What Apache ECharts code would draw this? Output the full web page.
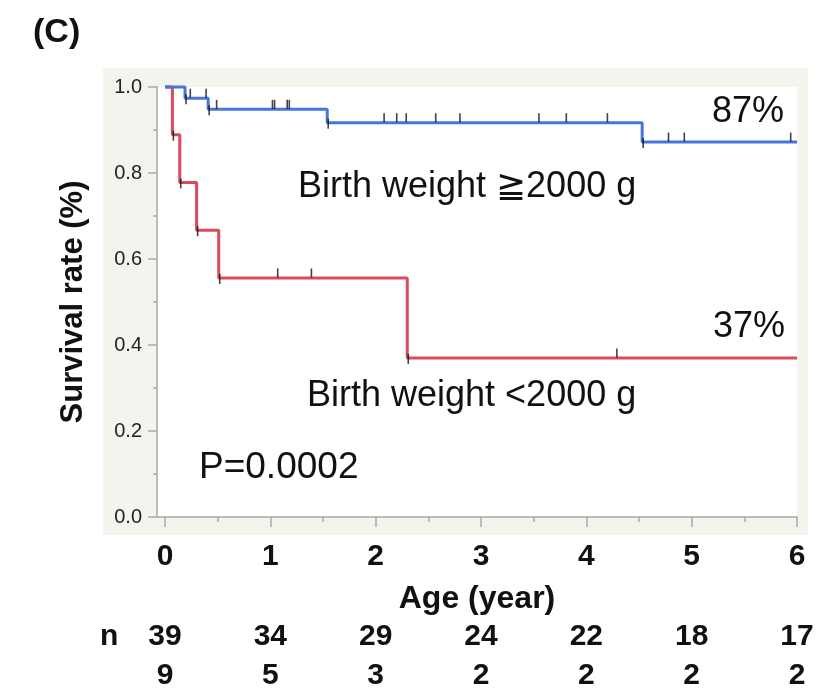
<!DOCTYPE html>
<html>
<head>
<meta charset="utf-8">
<script src="https://cdn.jsdelivr.net/npm/echarts@6/dist/echarts.min.js"></script>
<style>
  html, body { margin: 0; padding: 0; background: #fff; }
  #chart { width: 818px; height: 691px; }
</style>
</head>
<body>
<div id="chart"></div>
<script>
// Kaplan-Meier steps (age in years, survival)
var blueTimes = [0, 0.19, 0.41, 1.54, 4.53, 6];
var blueSurv  = [1.0, 0.974, 0.948, 0.917, 0.872, 0.872];
var redTimes  = [0, 0.07, 0.14, 0.30, 0.51, 2.30, 6];
var redSurv   = [1.0, 0.889, 0.778, 0.667, 0.556, 0.370, 0.370];

// censor marks
var blueCensored = [0.24, 0.39, 0.49, 1.02, 1.04, 1.16, 1.18, 2.08, 2.20, 2.29, 2.57, 2.80, 3.55, 3.81, 4.20, 4.78, 4.93, 5.94];
var redCensored  = [1.07, 1.39, 4.29];
// marks drawn at each drop
var blueDropMarks = [0.19, 0.41, 1.54, 4.53];
var redDropMarks  = [0.07, 0.14, 0.30, 0.51, 2.30];

// number at risk
var yearTicks = [0, 1, 2, 3, 4, 5, 6];
var halfYearTicks = [0.5, 1.5, 2.5, 3.5, 4.5, 5.5];
var atRiskHeavy = [39, 34, 29, 24, 22, 18, 17];
var atRiskLight = [9, 5, 3, 2, 2, 2, 2];

var FONT = "'Liberation Sans', Arial, Helvetica, sans-serif";
var blueColor = '#4575dd';
var redColor = '#d94a5c';
var axisGray = '#a8a8a8';

function levelAt(times, surv, t) {
    var v = surv[0];
    for (var i = 0; i < times.length; i++) {
        if (times[i] <= t + 1e-9) v = surv[i];
    }
    return v;
}
function pairs(times, surv) {
    return times.map(function (t, i) { return [t, surv[i]]; });
}
function marks(list, times, surv) {
    return list.map(function (t) { return [t, levelAt(times, surv, t)]; });
}

var xMin = -0.076, xMax = 6;

function xAx(extra) {
    var base = {
        type: 'value', min: xMin, max: xMax, position: 'bottom',
        splitLine: { show: false },
        axisLine: { show: false },
        axisTick: { show: false },
        axisLabel: { show: false }
    };
    for (var k in extra) base[k] = extra[k];
    return base;
}

var chart = echarts.init(document.getElementById('chart'));
chart.setOption({
    animation: false,
    backgroundColor: '#fff',
    textStyle: { fontFamily: FONT },
    graphic: [
        { type: 'rect', z: -10, shape: { x: 103, y: 68, width: 705, height: 467 }, style: { fill: '#f4f4ef' } },
        { type: 'text', left: 33, top: 16, style: { text: '(C)', font: 'bold 34px ' + FONT, fill: '#111' } },
        { type: 'text', left: 298, top: 169, style: { text: 'Birth weight \u22672000 g', font: '36px ' + FONT, fill: '#111' } },
        { type: 'text', left: 307, top: 378, style: { text: 'Birth weight <2000 g', font: '36px ' + FONT, fill: '#111' } },
        { type: 'text', left: 712, top: 94, style: { text: '87%', font: '36px ' + FONT, fill: '#111' } },
        { type: 'text', left: 713, top: 309, style: { text: '37%', font: '36px ' + FONT, fill: '#111' } },
        { type: 'text', left: 199, top: 449, style: { text: 'P=0.0002', font: '37px ' + FONT, fill: '#111' } },
        { type: 'text', left: 100, top: 622, style: { text: 'n', font: 'bold 30px ' + FONT, fill: '#111' } }
    ],
    grid: {
        left: 157, right: 21, top: 87, bottom: 172,
        show: true, backgroundColor: '#fff', borderWidth: 0
    },
    xAxis: [
        xAx({
            name: 'Age (year)', nameLocation: 'middle', nameGap: 66,
            nameTextStyle: { fontSize: 32, fontWeight: 'bold', color: '#111', fontFamily: FONT },
            axisLine: { show: true, onZero: false, lineStyle: { color: axisGray, width: 1.5 } },
            axisTick: { show: true, customValues: yearTicks, length: 10, lineStyle: { color: axisGray, width: 1.5 } },
            axisLabel: { show: true, customValues: yearTicks, margin: 25, fontSize: 30, fontWeight: 'bold', color: '#111', fontFamily: FONT }
        }),
        xAx({
            axisTick: { show: true, customValues: halfYearTicks, length: 5, lineStyle: { color: axisGray, width: 1.5 } }
        }),
        xAx({
            axisLabel: {
                show: true, customValues: yearTicks, margin: 105, fontSize: 30, fontWeight: 'bold', color: '#111', fontFamily: FONT,
                formatter: function (v) { return atRiskHeavy[Math.round(v)]; }
            }
        }),
        xAx({
            axisLabel: {
                show: true, customValues: yearTicks, margin: 144, fontSize: 30, fontWeight: 'bold', color: '#111', fontFamily: FONT,
                formatter: function (v) { return atRiskLight[Math.round(v)]; }
            }
        })
    ],
    yAxis: {
        type: 'value', min: 0, max: 1, interval: 0.2,
        name: 'Survival rate (%)', nameLocation: 'middle', nameGap: 68,
        nameTextStyle: { fontSize: 31, fontWeight: 'bold', color: '#111', fontFamily: FONT },
        splitLine: { show: false },
        axisLine: { show: true, onZero: false, lineStyle: { color: axisGray, width: 1.5 } },
        axisTick: { show: true, length: 9, lineStyle: { color: axisGray, width: 1.5 } },
        minorTick: { show: true, splitNumber: 2, length: 4, lineStyle: { color: axisGray, width: 1.5 } },
        axisLabel: {
            margin: 15, fontSize: 20, color: '#222', fontFamily: FONT,
            formatter: function (v) { return v.toFixed(1); }
        }
    },
    series: [
        {
            name: '<2000 g', type: 'line', step: 'end', clip: false, symbol: 'none',
            data: pairs(redTimes, redSurv),
            lineStyle: { color: redColor, width: 3 }
        },
        {
            name: '>=2000 g', type: 'line', step: 'end', clip: false, symbol: 'none',
            data: pairs(blueTimes, blueSurv),
            lineStyle: { color: blueColor, width: 3 }
        },
        {
            type: 'scatter', symbol: 'rect', symbolSize: [1.6, 9], symbolOffset: [0, -5],
            itemStyle: { color: '#111' }, z: 5,
            data: marks(blueCensored, blueTimes, blueSurv).concat(marks(redCensored, redTimes, redSurv))
        },
        {
            type: 'scatter', symbol: 'rect', symbolSize: [1.6, 10], symbolOffset: [1, 1],
            itemStyle: { color: '#111' }, z: 5,
            data: marks(blueDropMarks, blueTimes, blueSurv).concat(marks(redDropMarks, redTimes, redSurv))
        }
    ]
});
</script>
</body>
</html>
